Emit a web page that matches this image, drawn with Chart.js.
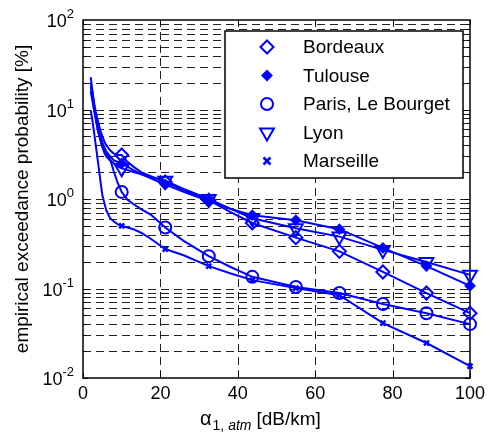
<!DOCTYPE html>
<html>
<head>
<meta charset="utf-8">
<script src="https://cdn.jsdelivr.net/npm/chart.js@4.4.0/dist/chart.umd.min.js"></script>
<style>
  html, body { margin: 0; padding: 0; background: #fff; }
</style>
</head>
<body>
<canvas id="plot" width="490" height="436"></canvas>
<script>
// alpha_1,atm values [dB/km] where the curves are sampled
const alphaX = [2, 2.5, 3, 3.5, 4, 4.5, 5, 5.5, 6, 7, 8, 9, 10, 11.5, 13, 15, 17.5,
                21.25, 26, 32.5, 38, 43.75, 55, 66.25, 77.5, 88.75, 100];
// x positions where a marker is shown
const markerX = [10, 21.25, 32.5, 43.75, 55, 66.25, 77.5, 88.75, 100];

// exceedance probability [%]
const bordeaux = [20, 15, 11, 8.5, 7, 5.8, 5.0, 4.4, 4.0, 3.5, 3.2, 3.1, 3.1, 2.6, 2.3, 2.0, 1.8,
                  1.55, 1.25, 0.97, 0.72, 0.54, 0.37, 0.26, 0.153, 0.089, 0.053];
const tulouse  = [18, 13, 9.5, 7.5, 6, 5, 4.3, 3.8, 3.4, 3.0, 2.7, 2.6, 2.5, 2.3, 2.1, 1.9, 1.7,
                  1.45, 1.2, 0.95, 0.78, 0.66, 0.58, 0.46, 0.284, 0.178, 0.107];
const paris    = [16, 12, 9, 7, 5.5, 4.6, 4.0, 3.6, 3.3, 2.8, 2.0, 1.5, 1.2, 0.98, 0.88, 0.77, 0.67,
                  0.48, 0.34, 0.23, 0.175, 0.135, 0.104, 0.089, 0.067, 0.053, 0.040];
const lyon     = [23, 15, 10, 7, 5.5, 4.5, 3.8, 3.3, 3.0, 2.7, 2.5, 2.3, 2.2, 2.1, 2.0, 1.9, 1.75,
                  1.6, 1.3, 1.0, 0.78, 0.61, 0.47, 0.38, 0.27, 0.198, 0.142];
const marseille = [9.8, 7.2, 5.0, 3.43, 2.34, 1.59, 1.11, 0.91, 0.75, 0.61, 0.56, 0.52, 0.50, 0.48, 0.46, 0.42, 0.36,
                   0.276, 0.235, 0.178, 0.148, 0.124, 0.101, 0.084, 0.041, 0.0246, 0.0136];

const cities = ["Bordeaux", "Tulouse", "Paris, Le Bourget", "Lyon", "Marseille"];
const xTicks = [0, 20, 40, 60, 80, 100];
const yTickExp = [-2, -1, 0, 1, 2];

const BLUE = "#0000ff";
const FONT = "'Liberation Sans', Arial, sans-serif";

// marker look per series (MATLAB style)
const markers = [
  { pointStyle: "rectRot", radius: 6.5, filled: false },
  { pointStyle: "rectRot", radius: 4.5, filled: true },
  { pointStyle: "circle", radius: 6, filled: false },
  { pointStyle: "triangle", radius: 8, rotation: 180, filled: false },
  { pointStyle: "crossRot", radius: 3.5, filled: false },
];
const seriesValues = [bordeaux, tulouse, paris, lyon, marseille];

const datasets = cities.map((name, i) => {
  const m = markers[i];
  return {
    label: name,
    data: alphaX.map((x, j) => ({ x: x, y: seriesValues[i][j] })),
    borderColor: BLUE,
    borderWidth: 2,
    tension: 0,
    clip: false,
    pointStyle: m.pointStyle,
    pointRotation: m.rotation || 0,
    pointRadius: alphaX.map(x => markerX.includes(x) ? m.radius : 0),
    pointBorderWidth: m.pointStyle === "crossRot" ? 2.5 : 2,
    pointBorderColor: BLUE,
    pointBackgroundColor: m.filled ? BLUE : "rgba(0,0,0,0)",
  };
});

function drawMarker(ctx, m, x, y) {
  ctx.save();
  ctx.strokeStyle = BLUE;
  ctx.fillStyle = BLUE;
  ctx.lineWidth = m.pointStyle === "crossRot" ? 2.5 : 2;
  ctx.setLineDash([]);
  const r = m.radius;
  ctx.beginPath();
  if (m.pointStyle === "rectRot") {
    ctx.moveTo(x, y - r); ctx.lineTo(x + r, y); ctx.lineTo(x, y + r); ctx.lineTo(x - r, y); ctx.closePath();
  } else if (m.pointStyle === "circle") {
    ctx.arc(x, y, r, 0, Math.PI * 2);
  } else if (m.pointStyle === "triangle") {
    const h = r * Math.sqrt(3) / 2;
    ctx.moveTo(x, y + r); ctx.lineTo(x + h, y - r / 2); ctx.lineTo(x - h, y - r / 2); ctx.closePath();
  } else {
    ctx.moveTo(x - r, y - r); ctx.lineTo(x + r, y + r);
    ctx.moveTo(x + r, y - r); ctx.lineTo(x - r, y + r);
  }
  if (m.filled) ctx.fill();
  ctx.stroke();
  ctx.restore();
}

const matlabAxes = {
  id: "matlabAxes",
  beforeDatasetsDraw(chart) {
    const { ctx, chartArea: a, scales: { x, y } } = chart;
    ctx.save();
    // dashed grid
    ctx.strokeStyle = "#222";
    ctx.lineWidth = 1;
    ctx.setLineDash([8, 5]);
    for (let k = -2; k <= 1; k++) {
      for (let m = 1; m <= 9; m++) {
        if (k === -2 && m === 1) continue;
        const py = Math.round(y.getPixelForValue(m * Math.pow(10, k))) + 0.5;
        ctx.beginPath(); ctx.moveTo(a.left, py); ctx.lineTo(a.right, py); ctx.stroke();
      }
    }
    xTicks.slice(1, -1).forEach(v => {
      const px = Math.round(x.getPixelForValue(v)) + 0.5;
      ctx.beginPath(); ctx.moveTo(px, a.bottom); ctx.lineTo(px, a.top); ctx.stroke();
    });
    ctx.setLineDash([]);
    // tick marks inside the box
    ctx.strokeStyle = "#000";
    xTicks.forEach(v => {
      const px = Math.round(x.getPixelForValue(v)) + 0.5;
      ctx.beginPath();
      ctx.moveTo(px, a.bottom); ctx.lineTo(px, a.bottom - 5);
      ctx.moveTo(px, a.top); ctx.lineTo(px, a.top + 5);
      ctx.stroke();
    });
    for (let k = -2; k <= 1; k++) {
      for (let m = 1; m <= 9; m++) {
        const py = Math.round(y.getPixelForValue(m * Math.pow(10, k))) + 0.5;
        const len = m === 1 ? 5 : 3;
        ctx.beginPath();
        ctx.moveTo(a.left, py); ctx.lineTo(a.left + len, py);
        ctx.moveTo(a.right, py); ctx.lineTo(a.right - len, py);
        ctx.stroke();
      }
    }
    // box
    ctx.lineWidth = 1.5;
    ctx.strokeRect(a.left, a.top, a.right - a.left, a.bottom - a.top);

    // tick labels
    ctx.fillStyle = "#000";
    ctx.font = "18px " + FONT;
    ctx.textAlign = "center";
    ctx.textBaseline = "middle";
    xTicks.forEach(v => ctx.fillText(String(v), x.getPixelForValue(v), a.bottom + 16));

    yTickExp.forEach(e => {
      const py = y.getPixelForValue(Math.pow(10, e));
      ctx.font = "13px " + FONT;
      const sup = String(e);
      const sw = ctx.measureText(sup).width;
      const right = a.left - 9;
      ctx.textAlign = "left";
      ctx.textBaseline = "alphabetic";
      ctx.fillText(sup, right - sw, py - 2);
      ctx.font = "18px " + FONT;
      ctx.textAlign = "right";
      ctx.fillText("10", right - sw, py + 7);
    });

    // axis titles
    ctx.textAlign = "center";
    ctx.textBaseline = "middle";
    ctx.font = "19px " + FONT;
    ctx.save();
    ctx.translate(23, (a.top + a.bottom) / 2);
    ctx.rotate(-Math.PI / 2);
    ctx.fillText("empirical exceedance probability [%]", 0, 0);
    ctx.restore();

    ctx.textAlign = "left";
    ctx.textBaseline = "alphabetic";
    let cx = 200;
    const base = 425;
    ctx.font = "20px " + FONT;
    ctx.fillText("\u03b1", cx, base); cx += ctx.measureText("\u03b1").width + 1;
    ctx.font = "14px " + FONT;
    ctx.fillText("1, ", cx, base + 5); cx += ctx.measureText("1, ").width;
    ctx.font = "italic 14px " + FONT;
    ctx.fillText("atm", cx, base + 5); cx += ctx.measureText("atm").width + 5;
    ctx.font = "19px " + FONT;
    ctx.fillText("[dB/km]", cx, base);
    ctx.restore();
  },
  afterDatasetsDraw(chart) {
    const ctx = chart.ctx;
    ctx.save();
    // legend box
    const lx = 225, ly = 31, lw = 238, lh = 147;
    ctx.fillStyle = "#fff";
    ctx.fillRect(lx, ly, lw, lh);
    ctx.strokeStyle = "#000";
    ctx.lineWidth = 1.5;
    ctx.strokeRect(lx, ly, lw, lh);
    ctx.font = "19px " + FONT;
    ctx.fillStyle = "#000";
    ctx.textBaseline = "middle";
    ctx.textAlign = "left";
    cities.forEach((name, i) => {
      const ey = 47 + i * 28.5;
      drawMarker(ctx, markers[i], 267, ey);
      ctx.fillStyle = "#000";
      ctx.fillText(name, 303, ey + 1);
    });
    ctx.restore();
  }
};

new Chart(document.getElementById("plot"), {
  type: "line",
  data: { datasets: datasets },
  options: {
    responsive: false,
    animation: false,
    devicePixelRatio: 1,
    layout: { padding: { left: 83, right: 20, top: 20, bottom: 58 } },
    plugins: { legend: { display: false }, tooltip: { enabled: false } },
    scales: {
      x: { type: "linear", min: 0, max: 100, display: false },
      y: { type: "logarithmic", min: 0.01, max: 100, display: false },
    },
  },
  plugins: [matlabAxes],
});
</script>
</body>
</html>
